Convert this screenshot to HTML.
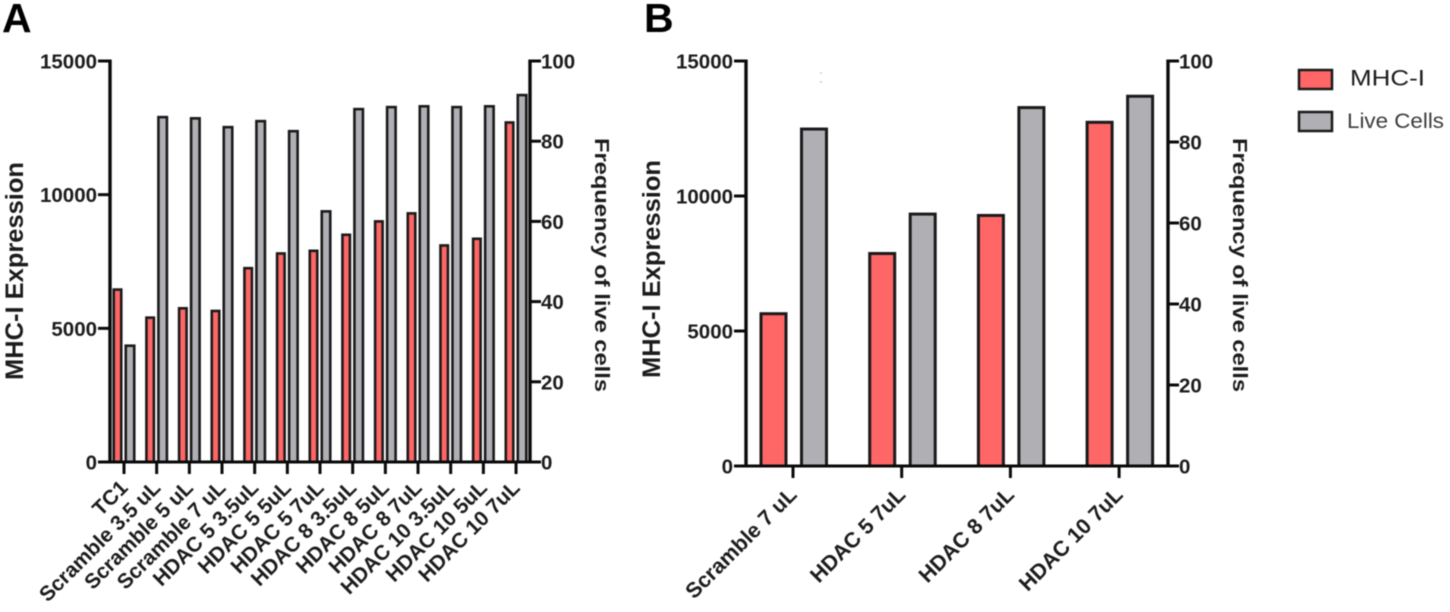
<!DOCTYPE html>
<html>
<head>
<meta charset="utf-8">
<style>
html,body{margin:0;padding:0;background:#fff;width:1450px;height:612px;overflow:hidden}
svg{display:block;filter:blur(.45px)}
text{font-family:"Liberation Sans",sans-serif;fill:#1c1c1c}
.tick{font-weight:700;font-size:20.5px}
.cat{font-weight:700}
.title{font-weight:700;font-size:25px}
.title2{font-weight:700;font-size:20.5px}
</style>
</head>
<body>
<svg id="chart" width="1450" height="612" viewBox="0 0 1450 612" xmlns="http://www.w3.org/2000/svg">
  <text x="2" y="32" style="font-weight:700;font-size:41px;fill:#000">A</text>
  <text x="644" y="32" style="font-weight:700;font-size:41px;fill:#000">B</text>
  <text class="title" transform="translate(23,380) rotate(-90)" textLength="218" lengthAdjust="spacingAndGlyphs">MHC-I Expression</text>
  <text class="title2" transform="translate(595,138) rotate(90)" textLength="254" lengthAdjust="spacingAndGlyphs">Frequency of live cells</text>
  <text class="title" transform="translate(660,378) rotate(-90)" textLength="218" lengthAdjust="spacingAndGlyphs">MHC-I Expression</text>
  <text class="title2" transform="translate(1233,138) rotate(90)" textLength="254" lengthAdjust="spacingAndGlyphs">Frequency of live cells</text>
  <rect x="1299" y="70" width="33" height="19" fill="#ff6666" stroke="#1a1a1a" stroke-width="2.5"></rect>
  <rect x="1299" y="112" width="33" height="19" fill="#b0afb4" stroke="#1a1a1a" stroke-width="2.5"></rect>
  <text x="1350" y="85.5" style="font-size:22.5px" textLength="75" lengthAdjust="spacingAndGlyphs">MHC-I</text>
  <text x="1347" y="128" style="font-size:21px;fill:#3c3c3c" textLength="97" lengthAdjust="spacingAndGlyphs">Live Cells</text>
  <circle cx="821" cy="73" r=".9" fill="#bbb"></circle>
  <circle cx="821" cy="82" r=".9" fill="#bbb"></circle>
</svg>
<script>
const leftTicks = [0, 5000, 10000, 15000];
const rightTicks = [0, 20, 40, 60, 80, 100];
const categoriesA = ["TC1", "Scramble 3.5 uL", "Scramble 5 uL", "Scramble 7 uL", "HDAC 5 3.5uL", "HDAC 5 5uL", "HDAC 5 7uL", "HDAC 8 3.5uL", "HDAC 8 5uL", "HDAC 8 7uL", "HDAC 10 3.5uL", "HDAC 10 5uL", "HDAC 10 7uL"];
const mhcA = [6450, 5400, 5750, 5650, 7250, 7800, 7900, 8500, 9000, 9300, 8100, 8350, 12700];
const liveA = [29, 86, 85.7, 83.5, 85, 82.5, 62.5, 88, 88.5, 88.7, 88.5, 88.7, 91.5];
const categoriesB = ["Scramble 7 uL", "HDAC 5 7uL", "HDAC 8 7uL", "HDAC 10 7uL"];
const mhcB = [5640, 7870, 9280, 12730];
const liveB = [83.2, 62.2, 88.5, 91.3];

const svg = document.getElementById('chart');
const NS = 'http://www.w3.org/2000/svg';
function make(tag, attrs, parent) {
  const el = document.createElementNS(NS, tag);
  for (const k in attrs) el.setAttribute(k, attrs[k]);
  (parent || svg).appendChild(el);
  return el;
}
function drawPanel(id, cfg, cats, mhc, live) {
  const g = make('g', {});
  
  
  const yL = v => cfg.bottom - (v / 15000) * (cfg.bottom - cfg.top);
  const yR = v => cfg.bottom - (v / 100) * (cfg.bottom - cfg.top);
  const xC = i => cfg.x0 + cfg.step * i;
  const bars = (vals, scale, offset, width, fill, name) => {
    vals.forEach((v, i) => {
      const y = scale(v);
      const bar = make('rect', {x: xC(i) + offset - width / 2, y: y, width: width, height: cfg.bottom - y, fill: fill, stroke: '#1a1a1a', 'stroke-width': cfg.barStroke}, g);
      
      
    });
  };
  bars(mhc, yL, cfg.redOffset, cfg.redWidth, '#ff6666', 'mhc-i');
  bars(live, yR, cfg.grayOffset, cfg.grayWidth, '#b0afb4', 'live-cells');
  const line = (x1, y1, x2, y2, w, name) => {
    const el = make('line', {x1: x1, y1: y1, x2: x2, y2: y2, stroke: '#0a0a0a', 'stroke-width': w}, g);
    
    
    return el;
  };
  line(cfg.left, cfg.top - 1.5, cfg.left, cfg.bottom + 1.5, 3.4, id + '-left-axis');
  line(cfg.right, cfg.top - 1.5, cfg.right, cfg.bottom + 1.5, 3.4, id + '-right-axis');
  line(cfg.left - 11, cfg.bottom, cfg.right + 11, cfg.bottom, 3, id + '-x-axis');
  leftTicks.forEach(v => {
    line(cfg.left - 12, yL(v), cfg.left, yL(v), 3, id + '-left-tick');
    const t = make('text', {class: 'tick', x: cfg.left - 13, y: yL(v) + 7.5, 'text-anchor': 'end'}, g);
    
    
    t.textContent = v;
  });
  rightTicks.forEach(v => {
    line(cfg.right, yR(v), cfg.right + 11, yR(v), 3, id + '-right-tick');
    const t = make('text', {class: 'tick', x: cfg.right + 11, y: yR(v) + 7.5}, g);
    
    
    t.textContent = v;
  });
  cats.forEach((c, i) => {
    line(xC(i), cfg.bottom, xC(i), cfg.bottom + 12, 3, id + '-x-tick');
    const t = make('text', {class: 'cat', 'text-anchor': 'end', transform: 'translate(' + (xC(i) + cfg.labelDx) + ',' + (cfg.bottom + cfg.labelDy) + ') rotate(-45)', style: 'font-size:' + cfg.labelSize + 'px'}, g);
    
    
    t.textContent = c;
  });
}
drawPanel('panel-a', {left: 110, right: 530, top: 61, bottom: 462, x0: 124, step: 32.67, redOffset: -6.5, grayOffset: 6, redWidth: 7.5, grayWidth: 8.5, barStroke: 2.6, labelDx: 5, labelDy: 27, labelSize: 21}, categoriesA, mhcA, liveA);
drawPanel('panel-b', {left: 746, right: 1168, top: 61, bottom: 466, x0: 793, step: 108.7, redOffset: -19.5, grayOffset: 21, redWidth: 25, grayWidth: 25, barStroke: 3, labelDx: 5, labelDy: 30, labelSize: 21.5}, categoriesB, mhcB, liveB);
</script>
</body>
</html>
